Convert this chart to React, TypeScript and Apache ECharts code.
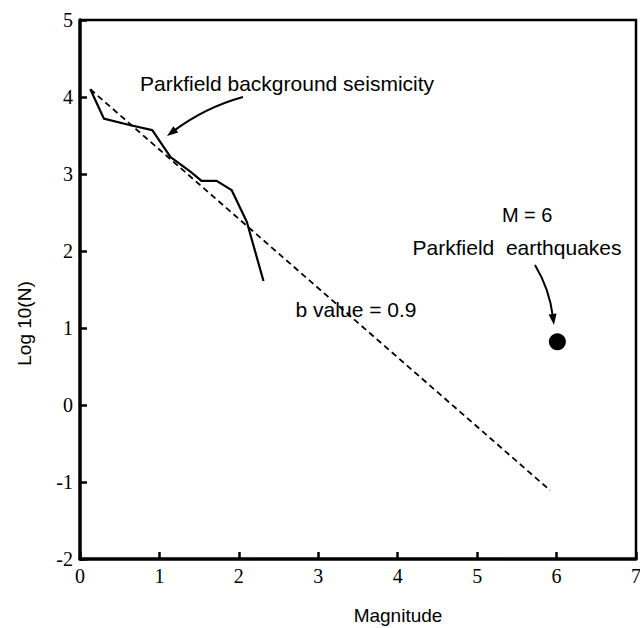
import React, { useEffect, useRef } from "react";
import * as echarts from "echarts";

// Background seismicity (cumulative frequency-magnitude curve)
const bgMagnitude = [0.13, 0.3, 0.61, 0.91, 1.14, 1.39, 1.53, 1.72, 1.91, 2.1, 2.31];
const bgLogN = [4.1, 3.72, 3.64, 3.57, 3.22, 3.03, 2.91, 2.91, 2.79, 2.38, 1.61];

// Gutenberg-Richter fit, b value = 0.9
const fitMagnitude = [0.13, 5.92];
const fitLogN = [4.1, -1.11];

// M = 6 Parkfield earthquakes
const quakeMagnitude = [6.01];
const quakeLogN = [0.82];

// Axes
const xMin = 0, xMax = 7, xStep = 1;
const yMin = -2, yMax = 5, yStep = 1;

const SANS = "'Liberation Sans', Arial, sans-serif";
const SERIF = "'Liberation Serif', 'Times New Roman', serif";

export default function App() {
  const ref = useRef<HTMLDivElement>(null);

  useEffect(() => {
    if (!ref.current) return;
    const chart = echarts.init(ref.current, null, { renderer: "svg" });

    chart.setOption({
      animation: false,
      backgroundColor: "#fff",
      grid: {
        left: 80,
        right: 4,
        top: 20,
        bottom: 69,
        show: false,
        outerBoundsMode: "none",
        containLabel: false,
      },
      xAxis: {
        type: "value",
        position: "bottom",
        min: xMin,
        max: xMax,
        interval: xStep,
        axisLine: { show: true, onZero: false, lineStyle: { color: "#000", width: 3.5 } },
        axisTick: { show: true, inside: true, length: 7, lineStyle: { color: "#000", width: 2.5 } },
        splitLine: { show: false },
        axisLabel: { color: "#000", fontFamily: SERIF, fontSize: 20, margin: 7 },
        name: "Magnitude",
        nameLocation: "middle",
        nameGap: 47,
        nameTextStyle: { color: "#000", fontFamily: SANS, fontSize: 19, padding: [0, 0, 0, 80] },
      },
      yAxis: {
        type: "value",
        position: "left",
        min: yMin,
        max: yMax,
        interval: yStep,
        axisLine: { show: true, onZero: false, lineStyle: { color: "#000", width: 3.5 } },
        axisTick: { show: true, inside: true, length: 7, lineStyle: { color: "#000", width: 2.5 } },
        splitLine: { show: false },
        axisLabel: { color: "#000", fontFamily: SERIF, fontSize: 20, margin: 7 },
        name: "Log 10(N)",
        nameLocation: "middle",
        nameGap: 46,
        nameRotate: 90,
        nameTextStyle: { color: "#000", fontFamily: SANS, fontSize: 19, padding: [0, 68, 0, 0] },
      },
      series: [
        {
          type: "line",
          data: fitMagnitude.map((m, i) => [m, fitLogN[i]]),
          showSymbol: false,
          lineStyle: { color: "#000", width: 1.8, type: [6, 4] },
          z: 2,
        },
        {
          type: "line",
          data: bgMagnitude.map((m, i) => [m, bgLogN[i]]),
          showSymbol: false,
          lineStyle: { color: "#000", width: 2.2 },
          z: 3,
        },
        {
          type: "scatter",
          data: quakeMagnitude.map((m, i) => [m, quakeLogN[i]]),
          symbol: "circle",
          symbolSize: 17,
          itemStyle: { color: "#000", opacity: 1 },
          z: 4,
        },
      ],
    });

    const p = (x: number, y: number) =>
      chart.convertToPixel({ gridIndex: 0 }, [x, y]) as number[];

    const arrow = (s: number[], c: number[], e: number[]) => {
      const S = p(s[0], s[1]);
      const C = p(c[0], c[1]);
      const E = p(e[0], e[1]);
      const dx = E[0] - C[0];
      const dy = E[1] - C[1];
      const len = Math.hypot(dx, dy) || 1;
      const ux = dx / len, uy = dy / len;
      const nx = -uy, ny = ux;
      const hl = 11, hw = 4;
      const bx = E[0] - ux * hl, by = E[1] - uy * hl;
      return [
        {
          type: "bezierCurve",
          shape: { x1: S[0], y1: S[1], cpx1: C[0], cpy1: C[1], x2: bx + ux * 3, y2: by + uy * 3 },
          style: { stroke: "#000", lineWidth: 2, fill: "none" },
          z: 10,
        },
        {
          type: "polygon",
          shape: {
            points: [
              [E[0], E[1]],
              [bx + nx * hw, by + ny * hw],
              [bx - nx * hw, by - ny * hw],
            ],
          },
          style: { fill: "#000" },
          z: 10,
        },
      ];
    };

    const label = (text: string, x: number, y: number, align: string, size: number) => {
      const P = p(x, y);
      return {
        type: "text",
        x: P[0],
        y: P[1],
        z: 11,
        style: {
          text,
          fill: "#000",
          fontFamily: SANS,
          fontSize: size,
          align,
          verticalAlign: "middle",
        },
      };
    };

    const tl = p(xMin, yMax);
    const br = p(xMax, yMin);

    chart.setOption({
      graphic: [
        {
          type: "polyline",
          shape: { points: [[tl[0], tl[1]], [br[0], tl[1]], [br[0], br[1]]] },
          style: { stroke: "#000", lineWidth: 2.5, fill: "none" },
          z: 9,
        },
        label("Parkfield background seismicity", 0.755, 4.18, "left", 21),
        label("b value = 0.9", 3.475, 1.234, "center", 21),
        label("M = 6", 5.63, 2.47, "center", 20),
        label("Parkfield  earthquakes", 5.502, 2.04, "center", 21),
        ...arrow([2.052, 4.0], [1.574, 3.864], [1.095, 3.494]),
        ...arrow([5.728, 1.818], [5.911, 1.506], [5.967, 1.039]),
      ],
    });

    return () => chart.dispose();
  }, []);

  return (
    <div
      ref={ref}
      style={{ position: "absolute", left: 0, top: 0, width: 640, height: 628 }}
    />
  );
}
